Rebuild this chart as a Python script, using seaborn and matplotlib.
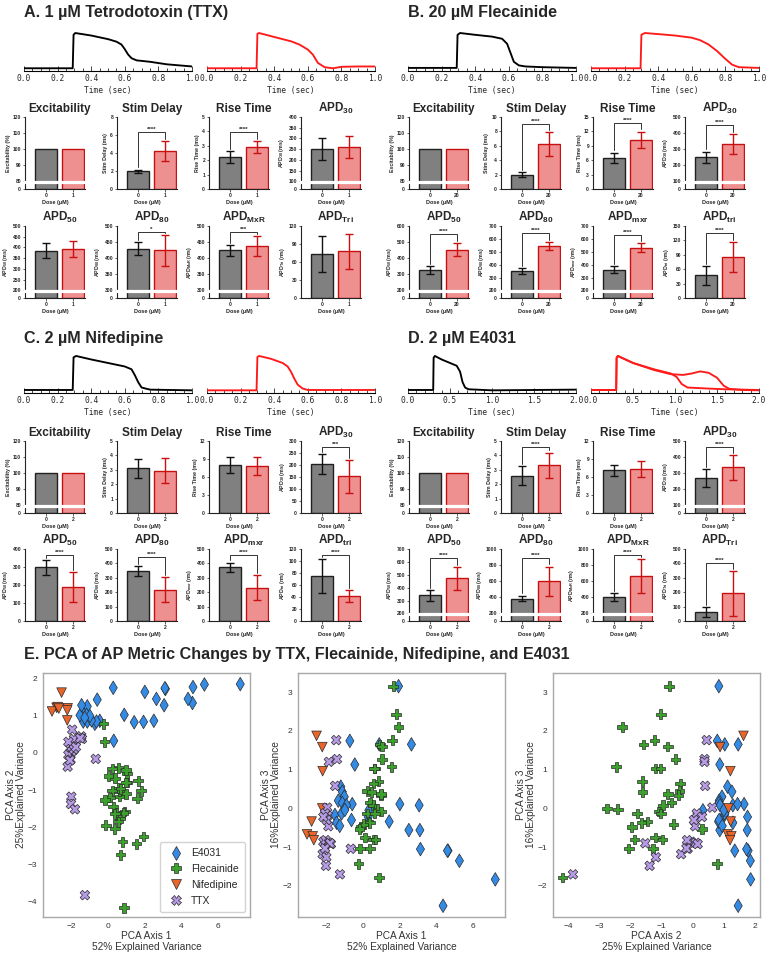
import numpy as np
import pandas as pd
import matplotlib
matplotlib.use("Agg")
import matplotlib.pyplot as plt
import seaborn as sns
from matplotlib.ticker import MultipleLocator, FormatStrFormatter
from matplotlib.transforms import blended_transform_factory

# ---------------- AP traces (time in s, normalised voltage) ----------------
ttx_ctrl_t = [0, 0.29, 0.295, 0.305, 0.40, 0.50, 0.55, 0.58, 0.60, 0.62, 0.64, 0.67, 0.75, 0.85, 1.0]
ttx_ctrl_v = [0.02, 0.02, 0.95, 1.0, 0.93, 0.83, 0.76, 0.68, 0.55, 0.40, 0.30, 0.24, 0.20, 0.13, 0.07]
ttx_drug_t = [0, 0.295, 0.30, 0.31, 0.40, 0.50, 0.55, 0.60, 0.63, 0.66, 0.70, 0.75, 0.80, 0.90, 1.0]
ttx_drug_v = [0.02, 0.02, 0.98, 1.0, 0.89, 0.77, 0.68, 0.54, 0.40, 0.17, 0.05, 0.02, 0.06, 0.07, 0.07]

flec_ctrl_t = [0, 0.29, 0.295, 0.31, 0.40, 0.50, 0.56, 0.59, 0.61, 0.63, 0.66, 0.70, 0.80, 1.0]
flec_ctrl_v = [0.03, 0.03, 0.95, 1.0, 0.95, 0.90, 0.84, 0.70, 0.45, 0.20, 0.10, 0.07, 0.05, 0.03]
flec_drug_t = [0, 0.295, 0.30, 0.32, 0.40, 0.50, 0.60, 0.65, 0.70, 0.75, 0.80, 0.84, 0.88, 1.0]
flec_drug_v = [0.02, 0.02, 0.95, 1.0, 0.97, 0.93, 0.87, 0.80, 0.68, 0.50, 0.28, 0.12, 0.05, 0.03]

nif_ctrl_t = [0, 0.29, 0.295, 0.31, 0.40, 0.50, 0.60, 0.64, 0.66, 0.68, 0.70, 0.75, 1.0]
nif_ctrl_v = [0.03, 0.03, 0.96, 1.0, 0.90, 0.80, 0.70, 0.62, 0.45, 0.25, 0.10, 0.04, 0.02]
nif_drug_t = [0, 0.295, 0.30, 0.31, 0.38, 0.45, 0.48, 0.50, 0.52, 0.54, 0.57, 0.60, 1.0]
nif_drug_v = [0.02, 0.02, 0.97, 1.0, 0.92, 0.80, 0.70, 0.55, 0.35, 0.18, 0.07, 0.03, 0.03]

e4031_ctrl_t = [0, 0.30, 0.305, 0.32, 0.40, 0.50, 0.58, 0.62, 0.65, 0.68, 0.72, 1.0, 2.0]
e4031_ctrl_v = [0.03, 0.03, 0.95, 1.0, 0.90, 0.80, 0.72, 0.55, 0.25, 0.10, 0.05, 0.02, 0.04]
e4031_drug_t = [0, 0.30, 0.305, 0.32, 0.50, 0.75, 0.95, 1.02, 1.08, 1.15, 1.40, 1.60, 2.0]
e4031_drug_v = [0.03, 0.03, 0.95, 1.0, 0.80, 0.62, 0.50, 0.40, 0.20, 0.10, 0.07, 0.05, 0.03]
e4031_drug2_t = [0, 0.30, 0.305, 0.32, 0.50, 0.75, 0.95, 1.10, 1.20, 1.30, 1.40, 1.50, 1.58, 1.65, 1.80, 2.0]
e4031_drug2_v = [0.03, 0.03, 0.95, 1.0, 0.80, 0.60, 0.48, 0.46, 0.50, 0.56, 0.52, 0.38, 0.15, 0.06, 0.03, 0.02]

# ---------------- AP metrics: mean and SD for 0 dose vs drug ----------------
ttx_ctrl_mean = [100, 1.95, 2.22, 250, 385, 430, 424, 73]
ttx_ctrl_sd = [0, 0.20, 0.42, 52, 35, 20, 18, 30]
ttx_drug_mean = [100, 4.22, 2.92, 261, 392, 425, 438, 78]
ttx_drug_sd = [0, 1.15, 0.42, 52, 36, 48, 30, 29]
ttx_sig = ["", "****", "****", "", "", "*", "***", ""]

flec_ctrl_mean = [100, 2.0, 6.5, 250, 325, 350, 360, 47]
flec_ctrl_sd = [0, 0.3, 1.1, 35, 24, 23, 26, 20]
flec_drug_mean = [100, 6.25, 10.2, 333, 454, 545, 532, 86]
flec_drug_sd = [0, 1.6, 1.75, 61, 41, 33, 33, 31]
flec_sig = ["", "****", "****", "****", "****", "****", "****", "****"]

nif_ctrl_mean = [100, 3.1, 8.0, 203, 298, 348, 373, 75]
nif_ctrl_sd = [0, 0.66, 1.3, 41, 41, 33, 33, 28]
nif_drug_mean = [100, 2.95, 7.9, 153, 190, 218, 232, 41]
nif_drug_sd = [0, 0.9, 1.5, 68, 82, 87, 84, 10]
nif_sig = ["", "", "", "***", "****", "****", "****", "****"]

e4031_ctrl_mean = [100, 2.6, 7.1, 272, 340, 385, 405, 64]
e4031_ctrl_sd = [0, 0.66, 0.9, 55, 40, 36, 52, 35]
e4031_drug_mean = [100, 3.3, 7.3, 336, 473, 602, 665, 191]
e4031_drug_sd = [0, 0.9, 1.35, 78, 88, 180, 210, 153]
e4031_sig = ["", "****", "", "****", "****", "****", "****", "****"]

titles_upper = ["Excitability", "Stim Delay", "Rise Time", "APD$_{30}$",
                "APD$_{50}$", "APD$_{80}$", "APD$_{MxR}$", "APD$_{Tri}$"]
titles_lower = ["Excitability", "Stim Delay", "Rise Time", "APD$_{30}$",
                "APD$_{50}$", "APD$_{80}$", "APD$_{mxr}$", "APD$_{tri}$"]
ylabels_upper = ["Excitability (%)", "Stim Delay (ms)", "Rise Time (ms)", "APD$_{30}$ (ms)",
                 "APD$_{50}$ (ms)", "APD$_{80}$ (ms)", "APD$_{MxR}$ (ms)", "APD$_{Tri}$ (ms)"]
ylabels_lower = ["Excitability (%)", "Stim Delay (ms)", "Rise Time (ms)", "APD$_{30}$ (ms)",
                 "APD$_{50}$ (ms)", "APD$_{80}$ (ms)", "APD$_{mxr}$ (ms)", "APD$_{tri}$ (ms)"]

# y axis (break start, top, step); break start 0 means no broken axis
ttx_axes = [(80, 120, 10), (0, 8, 2), (0, 5, 1), (100, 400, 50),
            (200, 500, 50), (300, 500, 50), (300, 500, 50), (0, 120, 30)]
flec_axes = [(80, 120, 10), (0, 10, 2), (0, 15, 3), (100, 500, 100),
             (200, 600, 100), (200, 700, 100), (200, 700, 100), (0, 150, 30)]
nif_axes = [(80, 120, 10), (0, 5, 1), (0, 12, 3), (0, 300, 50),
            (0, 400, 100), (0, 500, 100), (0, 500, 100), (0, 120, 20)]
e4031_axes = [(80, 120, 10), (0, 5, 1), (0, 12, 3), (100, 500, 100),
              (200, 700, 100), (200, 1000, 200), (200, 1000, 200), (0, 500, 100)]

# ---------------- PCA scores ----------------
e4031_pc1 = [7.21, 5.26, 4.64, 4.61, 4.37, 3.14, 3.11, 3.07, 2.65, 2.51, 2.02, 1.95, 1.44, 0.90, 0.33, 0.30,
             -0.57, -0.70, -0.43, -0.61, -1.19, -1.11, -1.00, -1.33, -1.11, -0.88, -1.51, -1.42, -1.15, -0.97, -1.25]
e4031_pc2 = [1.86, 1.85, 1.78, 1.35, 1.46, 1.73, 1.75, 1.29, 1.46, 0.87, 1.65, 0.84, 0.83, 1.03, 0.33, 1.76,
             1.44, 0.79, 0.87, 0.85, 1.12, 1.26, 0.94, 0.85, 0.85, 0.88, 1.02, 1.29, 1.03, 1.00, 0.95]
e4031_pc3 = [-1.83, -1.35, -1.09, -1.09, -2.51, -1.05, -0.56, 0.08, 1.65, -0.56, 0.11, 3.15, -0.34, 1.65, -0.05, -0.22,
             0.11, 1.74, 1.13, -0.30, 0.56, 0.43, 0.30, 0.20, 0.14, 0.08, -0.17, -0.37, -0.13, -0.04, -0.45]

flec_pc1 = [1.66, 1.82, 1.95, 1.60, 0.93, 1.05, 1.05, 1.57, 0.66, 0.62, 0.85, 0.58, 0.24, 0.48, 0.99, 0.99, 0.40, 0.57,
            0.70, 0.81, 0.99, 0.25, 0.66, 0.30, 0.39, -0.10, 0.05, -0.18, 0.12, 0.57, 0.70, -0.15, 0.39, -0.22, 0.89]
flec_pc2 = [-0.75, -1.02, -2.26, -1.22, -1.58, -0.80, -0.55, -2.45, -1.18, -1.03, -1.62, -0.40, -0.42, -1.61, -0.46,
            -0.80, -0.68, -0.95, -2.75, -2.40, -1.10, -1.02, -1.78, -1.45, -1.64, -1.95, -0.62, 0.30, -1.20, -1.86,
            -0.97, -1.27, -2.05, 0.79, -4.18]
flec_pc3 = [3.15, 2.43, 2.10, 1.76, 1.65, 1.60, 1.27, 1.07, 1.03, 1.03, 0.70, 0.64, 0.45, 0.42, 0.34, 0.37, 0.15, 0.08,
            0.00, -0.02, -0.08, -0.13, -0.13, -0.34, -0.37, -0.48, -0.41, -0.53, -0.75, -0.80, -0.80, -1.03, -1.03,
            -1.43, -1.78]

nif_pc1 = [-2.51, -2.20, -2.18, -2.20, -2.78, -3.03, -2.72, -2.66]
nif_pc2 = [1.63, 0.88, 1.21, 1.15, 1.22, 1.12, 1.24, 1.20]
nif_pc3 = [1.87, 1.58, 0.96, 0.00, -0.34, -0.67, -0.72, -0.82]

ttx_pc1 = [-1.44, -1.40, -1.84, -1.50, -1.93, -1.91, -2.05, -1.87, -1.96, -2.14, -2.14, -2.02, -1.84, -1.73,
           -2.18, -1.98, -2.00, -0.65, -1.24, -1.78, -2.05]
ttx_pc2 = [0.45, 0.38, 0.38, 0.40, 0.63, 0.16, 0.13, 0.08, 0.04, 0.30, -0.05, -0.18, 0.10, 0.16,
           -0.37, -1.18, -1.38, -0.16, -3.84, -1.52, -0.20]
ttx_pc3 = [1.76, 1.27, 1.20, 0.58, 0.02, -0.19, -0.13, -0.46, -0.30, -0.22, -0.86, -0.82, -0.89, -0.92,
           -1.18, -1.26, -1.48, -1.04, -1.70, -0.90, -1.03]

drug_order = ["E4031", "Flecainide", "Nifedipine", "TTX"]
drug_colors = ["#348be6", "#3ca02c", "#e8652b", "#b79be6"]
drug_markers = ["d", "P", "v", "X"]

# ---------------- figure ----------------
sns.set_theme(style="white")
plt.rcParams["font.family"] = ["Liberation Sans", "DejaVu Sans"]
plt.rcParams["mathtext.default"] = "regular"

W, H = 768, 959
fig = plt.figure(figsize=(W / 100, H / 100), dpi=100)
fig.patch.set_facecolor("white")


def box(x0, y0, x1, y1):
    return fig.add_axes([x0 / W, 1 - y1 / H, (x1 - x0) / W, (y1 - y0) / H])


def trace_axes(rect, xmax, lines, color):
    ax = box(*rect)
    for t, v in lines:
        sns.lineplot(x=t, y=v, ax=ax, color=color, lw=1.35, estimator=None, sort=False)
    ax.set_xlim(0, xmax)
    ax.set_ylim(-0.056, 1.056)
    for s in ["top", "right", "left"]:
        ax.spines[s].set_visible(False)
    ax.spines["bottom"].set_color("black")
    ax.spines["bottom"].set_linewidth(0.8)
    ax.set_yticks([])
    ax.set_facecolor("none")
    major = 0.2 if xmax == 1 else 0.5
    minor = 0.05 if xmax == 1 else 0.1
    ax.xaxis.set_major_locator(MultipleLocator(major))
    ax.xaxis.set_minor_locator(MultipleLocator(minor))
    ax.xaxis.set_major_formatter(FormatStrFormatter("%.1f"))
    ax.tick_params(axis="x", which="both", bottom=True, direction="in", width=0.6,
                   labelsize=5.7, pad=2.5, labelfontfamily="DejaVu Sans Mono")
    ax.tick_params(axis="x", which="major", length=3.5)
    ax.tick_params(axis="x", which="minor", length=2)
    ax.set_xlabel("Time (sec)", fontsize=5.7, family="DejaVu Sans Mono", labelpad=1.5)
    ax.set_ylabel("")
    return ax


GAP = 0.105


def bar_axes(rect, title, ylabel, cm, csd, dm, dsd, dose, spec, sig):
    ax = box(*rect)
    lo, hi, step = spec
    if lo > 0:
        k = GAP / (1 - GAP) * (hi - lo) / lo

        def fwd(v, lo=lo, k=k):
            v = np.asarray(v, dtype=float)
            return np.where(v >= lo, v, lo - (lo - v) * k)

        def inv(u, lo=lo, k=k):
            u = np.asarray(u, dtype=float)
            return np.where(u >= lo, u, lo - (lo - u) / k)

        ax.set_yscale("function", functions=(fwd, inv))
    df = pd.DataFrame({"Dose": ["0", dose], "Value": [cm, dm]})
    sns.barplot(data=df, x="Dose", y="Value", hue="Dose", palette=["#808080", "#ff8080"],
                width=0.8, linewidth=1.0, edgecolor="black", legend=False, errorbar=None, ax=ax)
    for p, ec in zip(ax.patches, ["#202020", "#c81010"]):
        p.set_edgecolor(ec)
    for i, (m, sd, c) in enumerate([(cm, csd, "#111111"), (dm, dsd, "#c81010")]):
        if sd > 0:
            ax.errorbar(i, m, yerr=sd, fmt="none", ecolor=c, elinewidth=1.0,
                        capsize=2.6, capthick=1.0, zorder=4)
    ax.set_xlim(-0.78, 1.45)
    ax.set_ylim(0, hi)
    ticks = list(np.arange(lo, hi + step / 2, step))
    if lo > 0:
        ticks = [0] + ticks
    ax.set_yticks(ticks, [f"{t:g}" for t in ticks], fontweight="bold")
    ax.set_xticks([0, 1], ["0", dose], fontweight="bold")
    ax.tick_params(labelsize=3.6, length=1.8, width=0.5, pad=1, bottom=True, left=True)
    for s in ["top", "right"]:
        ax.spines[s].set_visible(False)
    for s in ["left", "bottom"]:
        ax.spines[s].set_color("#222222")
        ax.spines[s].set_linewidth(0.8)
    ax.set_xlabel("Dose (µM)", fontsize=4, fontweight="bold", labelpad=1.5)
    ax.set_ylabel(ylabel, fontsize=3.8, fontweight="bold", labelpad=1.5)
    ax.set_title(title, fontsize=8.5, fontweight="bold", pad=3.5, x=0.58)
    if lo > 0:
        yb = GAP - 0.012
        ax.plot([-0.03, 1.0], [yb, yb], transform=ax.transAxes, color="white", lw=2.3,
                clip_on=False, zorder=10, solid_capstyle="butt")
    if sig:
        def frac(v):
            return ax.transAxes.inverted().transform(ax.transData.transform((0, v)))[1]
        t0, t1 = frac(cm + csd), frac(dm + dsd)
        yb = min(max(t0, t1) + 0.12, 0.92)
        tr = blended_transform_factory(ax.transData, ax.transAxes)
        ax.plot([0, 0, 1, 1], [t0 + 0.03, yb, yb, t1 + 0.03], transform=tr,
                color="#333333", lw=0.7, clip_on=False, zorder=5)
        ax.text(0.5, yb + 0.003, sig, transform=tr, ha="center", va="bottom",
                fontsize=4.5, fontweight="bold")
    return ax


def metric_block(ox, row_tops, titles, ylabels, cmean, csd, dmean, dsd, dose, specs, sigs):
    for i in range(8):
        r, c = divmod(i, 4)
        x0 = ox + 25 + 92 * c
        y0 = row_tops[r]
        bar_axes((x0, y0, x0 + 60, y0 + 72), titles[i], ylabels[i], cmean[i], csd[i],
                 dmean[i], dsd[i], dose, specs[i], sigs[i])


# section titles
sec_kw = dict(fontsize=11.6, fontweight="bold", va="center", ha="left")
fig.text(24 / W, 1 - 13 / H, "A. 1 µM Tetrodotoxin (TTX)", **sec_kw)
fig.text(408 / W, 1 - 13 / H, "B. 20 µM Flecainide", **sec_kw)
fig.text(24 / W, 1 - 338 / H, "C. 2 µM Nifedipine", **sec_kw)
fig.text(408 / W, 1 - 338 / H, "D. 2 µM E4031", **sec_kw)
fig.text(24 / W, 1 - 655 / H, "E. PCA of AP Metric Changes by TTX, Flecainide, Nifedipine, and E4031", **sec_kw)

# traces
trace_axes((24, 31, 192, 71), 1, [(ttx_ctrl_t, ttx_ctrl_v)], "black")
trace_axes((207, 31, 375, 71), 1, [(ttx_drug_t, ttx_drug_v)], "#ff1a1a")
trace_axes((408, 31, 576, 71), 1, [(flec_ctrl_t, flec_ctrl_v)], "black")
trace_axes((591, 31, 759, 71), 1, [(flec_drug_t, flec_drug_v)], "#ff1a1a")
trace_axes((24, 354, 192, 393), 1, [(nif_ctrl_t, nif_ctrl_v)], "black")
trace_axes((207, 354, 375, 393), 1, [(nif_drug_t, nif_drug_v)], "#ff1a1a")
trace_axes((408, 354, 576, 393), 2, [(e4031_ctrl_t, e4031_ctrl_v)], "black")
trace_axes((591, 354, 759, 393), 2, [(e4031_drug_t, e4031_drug_v), (e4031_drug2_t, e4031_drug2_v)], "#ff1a1a")

# metric bar charts
metric_block(0, (117, 226), titles_upper, ylabels_upper, ttx_ctrl_mean, ttx_ctrl_sd,
             ttx_drug_mean, ttx_drug_sd, "1", ttx_axes, ttx_sig)
metric_block(384, (117, 226), titles_lower, ylabels_lower, flec_ctrl_mean, flec_ctrl_sd,
             flec_drug_mean, flec_drug_sd, "20", flec_axes, flec_sig)
metric_block(0, (441, 549), titles_lower, ylabels_lower, nif_ctrl_mean, nif_ctrl_sd,
             nif_drug_mean, nif_drug_sd, "2", nif_axes, nif_sig)
metric_block(384, (441, 549), titles_upper, ylabels_upper, e4031_ctrl_mean, e4031_ctrl_sd,
             e4031_drug_mean, e4031_drug_sd, "2", e4031_axes, e4031_sig)

# PCA
pca = pd.concat([
    pd.DataFrame({"PC1": e4031_pc1, "PC2": e4031_pc2, "PC3": e4031_pc3, "Drug": "E4031"}),
    pd.DataFrame({"PC1": flec_pc1, "PC2": flec_pc2, "PC3": flec_pc3, "Drug": "Flecainide"}),
    pd.DataFrame({"PC1": nif_pc1, "PC2": nif_pc2, "PC3": nif_pc3, "Drug": "Nifedipine"}),
    pd.DataFrame({"PC1": ttx_pc1, "PC2": ttx_pc2, "PC3": ttx_pc3, "Drug": "TTX"}),
], ignore_index=True)

lab1 = "PCA Axis 1\n52% Explained Variance"
lab2x = "PCA Axis 2\n25% Explained Variance"
lab2y = "PCA Axis 2\n25%Explained Variance"
lab3y = "PCA Axis 3\n16%Explained Variance"
pca_panels = [
    ((43, 673, 250, 917), "PC1", "PC2", lab1, lab2y, (-3.52, 7.74), (-4.43, 2.16)),
    ((298, 673, 505, 917), "PC1", "PC3", lab1, lab3y, (-3.52, 7.74), (-2.80, 3.49)),
    ((553, 673, 760, 917), "PC2", "PC3", lab2x, lab3y, (-4.48, 2.16), (-2.80, 3.49)),
]
for n, (rect, xc, yc, xl, yl, xlim, ylim) in enumerate(pca_panels):
    ax = box(*rect)
    sns.scatterplot(data=pca, x=xc, y=yc, hue="Drug", style="Drug", hue_order=drug_order,
                    style_order=drug_order, palette=drug_colors,
                    markers=dict(zip(drug_order, drug_markers)), s=48,
                    edgecolor="#2a2a2a", linewidth=0.5, ax=ax, legend=(n == 0))
    ax.set_xlim(*xlim)
    ax.set_ylim(*ylim)
    ax.set_xlabel(xl, fontsize=7.3, color="#333333", labelpad=1, linespacing=1.1)
    ax.set_ylabel(yl, fontsize=7.3, color="#333333", labelpad=1, linespacing=1.1)
    ax.tick_params(labelsize=6, colors="#333333", length=0, pad=4)
    for s in ax.spines.values():
        s.set_color("#a8a8a8")
        s.set_linewidth(1.0)
    if n == 0:
        sns.move_legend(ax, "lower right", title=None, fontsize=7.5, frameon=True,
                        edgecolor="#c8c8c8", handletextpad=0.4, labelspacing=0.55,
                        borderpad=0.6, borderaxespad=0.5)

fig.savefig("out.png", dpi=100, facecolor="white")
